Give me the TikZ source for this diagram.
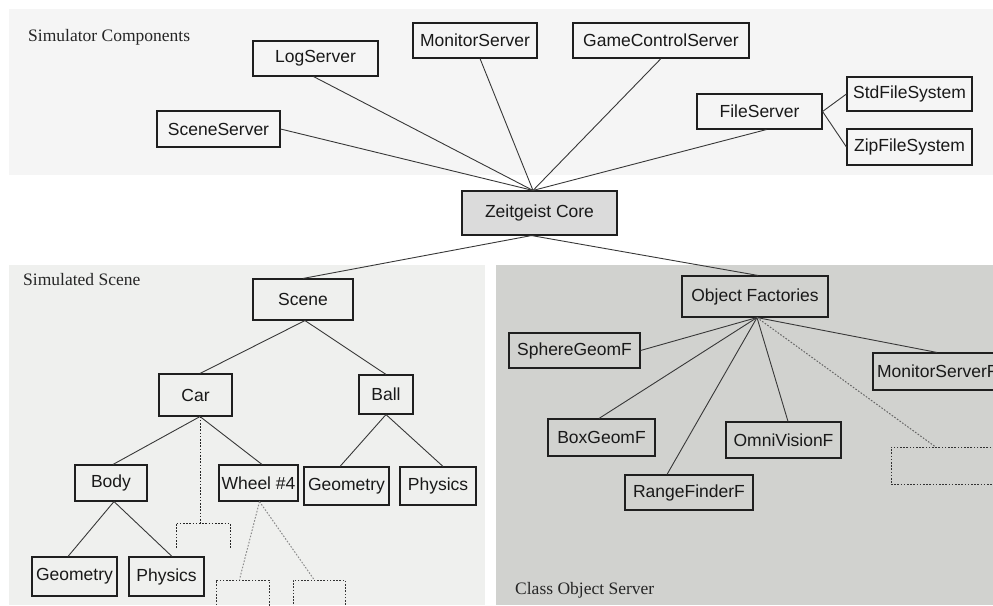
\documentclass[tikz,border=0pt]{standalone}
\usepackage{fontspec}
\setmainfont{Liberation Serif}
\newfontfamily\boxfont{Liberation Sans}
\begin{document}
\begin{tikzpicture}[x=1pt,y=-1pt,
  comp/.style={draw=black!88, line width=1.1pt, inner sep=0pt, text=black!90,
    font=\boxfont\fontsize{17.5}{20}\selectfont},
  ghost/.style={draw=black!80, line width=1pt, dash pattern=on 1.6pt off 1.6pt, inner sep=0pt},
  link/.style={draw=black!78, line width=0.9pt},
  ghostlink/.style={draw=black!85, line width=1pt, dash pattern=on 1.6pt off 1.6pt},
  greylink/.style={draw=black!45, line width=1pt, dash pattern=on 1.6pt off 1.6pt},
  title/.style={anchor=base west, inner sep=0pt, text=black!85,
    font=\fontsize{17.5}{20}\selectfont}]
\useasboundingbox (0,0) rectangle (993,605);
\clip (0,0) rectangle (993,605);

% panel backgrounds
\fill[black!4] (9,9) rectangle (993,175);
\fill[color={rgb,255:red,239;green,240;blue,238}] (9,265) rectangle (485,605);
\fill[color={rgb,255:red,209;green,210;blue,207}] (496,265) rectangle (993,605);

% panel titles
\node[title] (tSim) at (28,41) {Simulator Components};
\node[title] (tScn) at (23,285) {Simulated Scene};
\node[title] (tCls) at (515,594) {Class Object Server};

% simulator components
\node[comp, fill=black!14, minimum width=155pt, minimum height=44pt] (core) at (539.5,213) {Zeitgeist Core};
\node[comp, minimum width=125pt, minimum height=35pt] (log) at (315.5,58.5) {LogServer};
\node[comp, minimum width=124pt, minimum height=35pt] (mon) at (475,40.5) {MonitorServer};
\node[comp, minimum width=176pt, minimum height=35pt] (game) at (661,40.5) {GameControlServer};
\node[comp, minimum width=123pt, minimum height=36pt] (scs) at (218.5,129) {SceneServer};
\node[comp, minimum width=125pt, minimum height=35pt] (file) at (759.5,111.5) {FileServer};
\node[comp, minimum width=125pt, minimum height=34pt] (std) at (909.5,94) {StdFileSystem};
\node[comp, minimum width=125pt, minimum height=36pt] (zip) at (909.5,147) {ZipFileSystem};

\coordinate (coreT) at ([xshift=-6.5pt]core.north);
\coordinate (coreB) at ([xshift=-8pt]core.south);
\draw[link] ([xshift=-2pt]log.south) -- (coreT);
\draw[link] (scs.east) -- (coreT);
\draw[link] ([xshift=5pt]mon.south) -- (coreT);
\draw[link] (game.south) -- (coreT);
\draw[link] ([xshift=7pt]file.south) -- (coreT);
\draw[link] (file.east) -- (std.west);
\draw[link] (file.east) -- (zip.west);

% simulated scene graph
\node[comp, minimum width=100pt, minimum height=41pt] (scene) at (303,299.5) {Scene};
\node[comp, minimum width=73pt, minimum height=42pt] (car) at (195.5,395) {Car};
\node[comp, minimum width=54pt, minimum height=39pt] (ball) at (386,394.5) {Ball};
\node[comp, minimum width=72pt, minimum height=36pt] (body) at (111,483) {Body};
\node[comp, minimum width=79pt, minimum height=36pt] (wheel) at (258.5,483) {Wheel \#4};
\node[comp, minimum width=85pt, minimum height=38pt] (geoB) at (346.5,486) {Geometry};
\node[comp, minimum width=76pt, minimum height=38pt] (phyB) at (438,486) {Physics};
\node[comp, minimum width=85pt, minimum height=39pt] (geoC) at (74.5,576.5) {Geometry};
\node[comp, minimum width=75pt, minimum height=39pt] (phyC) at (166.5,576.5) {Physics};
\node[ghost, minimum width=53pt, minimum height=40pt] (w1) at (242.5,600) {};
\node[ghost, minimum width=52pt, minimum height=40pt] (w2) at (319,600) {};

\draw[link] (coreB) -- (scene.north);
\draw[link] ([xshift=2pt]scene.south) -- ([xshift=4.5pt]car.north);
\draw[link] ([xshift=2pt]scene.south) -- (ball.north);
\draw[link] ([xshift=4.5pt]car.south) -- ([xshift=2pt]body.north);
\draw[link] ([xshift=4.5pt]car.south) -- ([xshift=3.5pt]wheel.north);
\draw[link] (ball.south) -- ([xshift=-6.5pt]geoB.north);
\draw[link] (ball.south) -- ([xshift=5pt]phyB.north);
\draw[link] ([xshift=3pt]body.south) -- ([xshift=-6.5pt]geoC.north);
\draw[link] ([xshift=3pt]body.south) -- ([xshift=5.5pt]phyC.north);

% further car parts, left open
\coordinate (carKnee) at (200,523);
\coordinate (brL) at (176,548);
\coordinate (brR) at (230,548);
\draw[ghostlink] ([xshift=4.5pt]car.south) -- (carKnee);
\draw[ghostlink] (brL) -- (176,523) -- (230,523) -- (brR);
\draw[greylink] ([xshift=1pt]wheel.south) -- ([xshift=-3pt]w1.north);
\draw[greylink] ([xshift=1pt]wheel.south) -- ([xshift=-5pt]w2.north);

% class object server
\node[comp, minimum width=146pt, minimum height=41pt] (fact) at (755,296.5) {Object Factories};
\node[comp, minimum width=131pt, minimum height=35pt] (sph) at (574.5,350.5) {SphereGeomF};
\node[comp, minimum width=132pt, minimum height=37pt, text width=124pt, align=left] (monf) at (939,371.5) {MonitorServerF};
\node[comp, minimum width=107pt, minimum height=37pt] (box) at (601.5,437.5) {BoxGeomF};
\node[comp, minimum width=115pt, minimum height=36pt] (omni) at (783.5,440) {OmniVisionF};
\node[comp, minimum width=128pt, minimum height=35pt] (range) at (689,492.5) {RangeFinderF};
\node[ghost, minimum width=110pt, minimum height=37pt] (more) at (946,465.5) {};

\coordinate (factB) at ([xshift=2pt]fact.south);
\draw[link] (coreB) -- ([xshift=3pt]fact.north);
\draw[link] (factB) -- (sph.east);
\draw[link] (factB) -- ([xshift=-2.5pt]box.north);
\draw[link] (factB) -- ([xshift=-22pt]range.north);
\draw[link] (factB) -- ([xshift=4.5pt]omni.north);
\draw[link] (factB) -- ([xshift=-2pt]monf.north);
\draw[greylink, draw=black!60] (factB) -- ([xshift=-11pt]more.north);
\end{tikzpicture}
\end{document}
